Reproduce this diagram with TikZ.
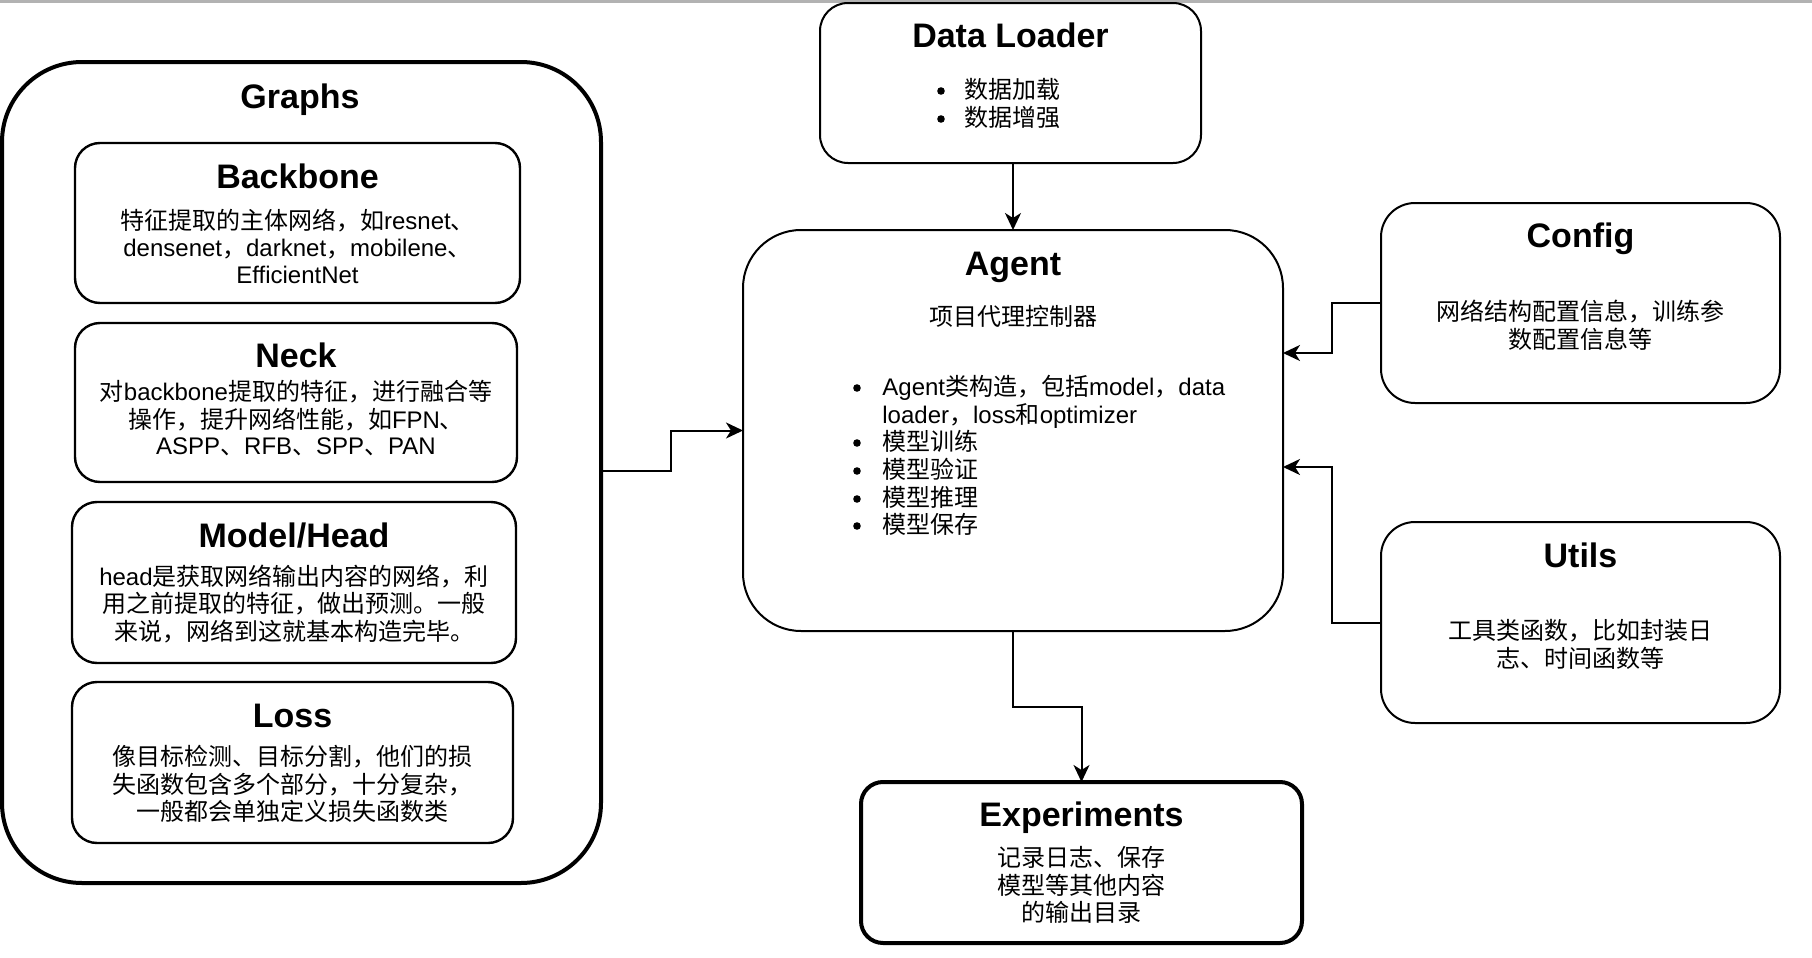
\documentclass[tikz,border=0pt]{standalone}
\usepackage{fontspec}
\setmainfont{Liberation Sans}
\newfontfamily\cjkfont{Noto Sans CJK SC}
\newcommand\zhtxt[1]{{\cjkfont #1}}
\usetikzlibrary{arrows.meta}
\begin{document}
\begin{tikzpicture}[x=0.5pt,y=-0.5pt,
  box/.style={draw, line width=1pt, inner sep=0pt, outer sep=0pt},
  inbox/.style={box, line width=1.2pt, rounded corners=12.5pt},
  thick box/.style={box, line width=2pt},
  ttl/.style={anchor=base, inner sep=0pt, font=\fontsize{17}{20}\selectfont\bfseries},
  bd/.style={anchor=base, inner sep=0pt, font=\fontsize{12}{14}\selectfont},
  bl/.style={bd, anchor=base west},
  dot/.style={circle, fill=black, inner sep=0pt, minimum size=3.8pt},
  conn/.style={draw, line width=1pt, -{Stealth[length=8.5pt,width=8pt,inset=2.5pt]}}]
\fill[white] (0,0) rectangle (1812,958);
\useasboundingbox (0,0) rectangle (1812,958);
\fill[gray!60] (0,0) rectangle (1812,3);

% boxes
\node[thick box, rounded corners=40pt, minimum width=299.5pt, minimum height=410.5pt] (graphs) at (301.5,472.5) {};
\node[inbox, minimum width=222.5pt, minimum height=80pt] (backbone) at (297.5,223) {};
\node[inbox, minimum width=221pt, minimum height=79.5pt] (neck) at (296,402.5) {};
\node[inbox, minimum width=222pt, minimum height=80.5pt] (head) at (294,582.5) {};
\node[inbox, minimum width=220.5pt, minimum height=80.5pt] (loss) at (292.5,762.5) {};
\node[box, rounded corners=14pt, minimum width=190.5pt, minimum height=80pt] (dl) at (1010.5,83) {};
\node[box, rounded corners=29pt, minimum width=270pt, minimum height=200.5pt] (agent) at (1013,430.5) {};
\node[box, rounded corners=17pt, minimum width=199.5pt, minimum height=100pt] (config) at (1580.5,303) {};
\node[box, rounded corners=17pt, minimum width=199.5pt, minimum height=100.5pt] (utils) at (1580.5,622.5) {};
\node[thick box, rounded corners=11pt, minimum width=220.5pt, minimum height=80.5pt] (exp) at (1081.5,862.5) {};

% Graphs texts
\node[ttl] (tGraphs) at (300,108) {Graphs};
\node[ttl] (tBack) at (297.5,188) {Backbone};
\node[bd] (b1) at (297.5,229) {\zhtxt{特征提取的主体网络，如}resnet\zhtxt{、}};
\node[bd] (b2) at (297.5,256) {densenet\zhtxt{，}darknet\zhtxt{，}mobilene\zhtxt{、}};
\node[bd] (b3) at (297.5,283) {EfficientNet};
\node[ttl] (tNeck) at (296,367) {Neck};
\node[bd] (n1) at (296,400) {\zhtxt{对}backbone\zhtxt{提取的特征，进行融合等}};
\node[bd] (n2) at (296,428) {\zhtxt{操作，提升网络性能，如}FPN\zhtxt{、}};
\node[bd] (n3) at (296,454) {ASPP\zhtxt{、}RFB\zhtxt{、}SPP\zhtxt{、}PAN};
\node[ttl] (tHead) at (294,547) {Model/Head};
\node[bd] (h1) at (294,585) {head\zhtxt{是获取网络输出内容的网络，利}};
\node[bd] (h2) at (294,612) {\zhtxt{用之前提取的特征，做出预测。一般}};
\node[bd] (h3) at (294,640) {\zhtxt{来说，网络到这就基本构造完毕。}};
\node[ttl] (tLoss) at (292.5,727) {Loss};
\node[bd] (l1) at (292.5,765) {\zhtxt{像目标检测、目标分割，他们的损}};
\node[bd] (l2) at (292.5,793) {\zhtxt{失函数包含多个部分，十分复杂，}};
\node[bd] (l3) at (292.5,820) {\zhtxt{一般都会单独定义损失函数类}};

% Data Loader
\node[ttl] (tDL) at (1010.5,47) {Data Loader};
\node[dot] (dlb1) at (941,91) {};
\node[bl] (dl1) at (964,98) {\zhtxt{数据加载}};
\node[dot] (dlb2) at (941,119) {};
\node[bl] (dl2) at (964,126) {\zhtxt{数据增强}};

% Agent
\node[ttl] (tAg) at (1013,275) {Agent};
\node[bd] (ag0) at (1013,325) {\zhtxt{项目代理控制器}};
\node[dot] (agb1) at (857,388) {};
\node[bl] (ag1) at (882,395) {Agent\zhtxt{类构造，包括}model\zhtxt{，}data};
\node[bl] (ag2) at (882,423) {loader\zhtxt{，}loss\zhtxt{和}optimizer};
\node[dot] (agb3) at (857,443) {};
\node[bl] (ag3) at (882,450) {\zhtxt{模型训练}};
\node[dot] (agb4) at (857,471) {};
\node[bl] (ag4) at (882,478) {\zhtxt{模型验证}};
\node[dot] (agb5) at (857,499) {};
\node[bl] (ag5) at (882,506) {\zhtxt{模型推理}};
\node[dot] (agb6) at (857,526) {};
\node[bl] (ag6) at (882,533) {\zhtxt{模型保存}};

% Config
\node[ttl] (tCfg) at (1580.5,247) {Config};
\node[bd] (c1) at (1580.5,320) {\zhtxt{网络结构配置信息，训练参}};
\node[bd] (c2) at (1580.5,348) {\zhtxt{数配置信息等}};

% Utils
\node[ttl] (tUt) at (1580.5,567) {Utils};
\node[bd] (u1) at (1580.5,639) {\zhtxt{工具类函数，比如封装日}};
\node[bd] (u2) at (1580.5,667) {\zhtxt{志、时间函数等}};

% Experiments
\node[ttl] (tExp) at (1081.5,826) {Experiments};
\node[bd] (e1) at (1081.5,866) {\zhtxt{记录日志、保存}};
\node[bd] (e2) at (1081.5,894) {\zhtxt{模型等其他内容}};
\node[bd] (e3) at (1081.5,921) {\zhtxt{的输出目录}};

% connectors
\coordinate (gA) at (671,471);
\coordinate (cA) at (1332,353);
\coordinate (uA) at (1332,467);
\coordinate (eY) at (0,707);
\draw[conn] (dl.south -| agent.north) -- (agent.north);
\draw[conn] (graphs.east |- gA) -- (gA) |- (agent.west);
\draw[conn] (config.west) -| (cA) -- (agent.east |- cA);
\draw[conn] (utils.west) -| (uA) -- (agent.east |- uA);
\draw[conn] (agent.south) |- (exp.north |- eY) -- (exp.north);
\end{tikzpicture}
\end{document}
